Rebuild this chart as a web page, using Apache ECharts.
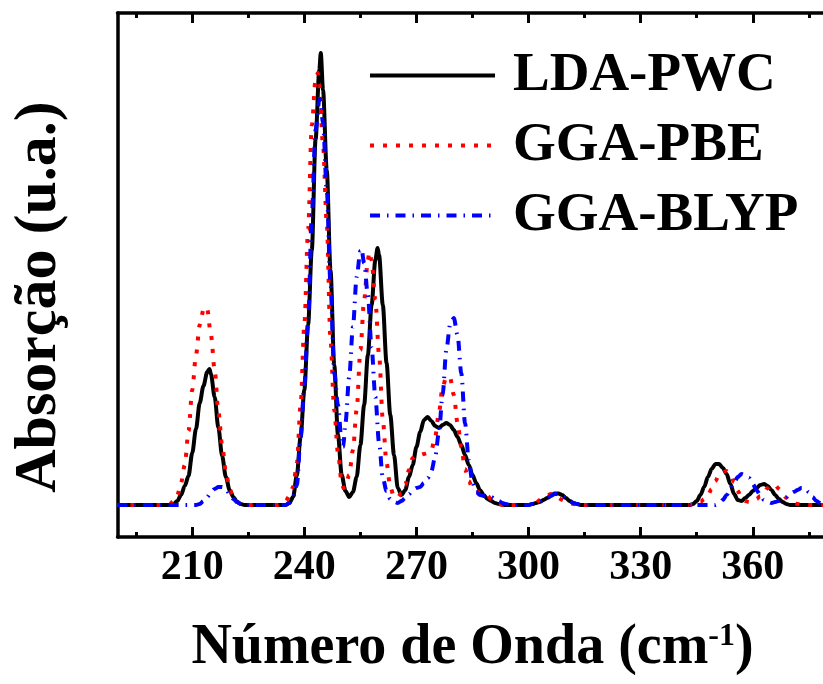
<!DOCTYPE html>
<html>
<head>
<meta charset="utf-8">
<script src="https://cdn.jsdelivr.net/npm/echarts@6/dist/echarts.min.js"></script>
<style>
  html, body { margin: 0; padding: 0; background: #fff; }
  #main { width: 823px; height: 684px; }
</style>
</head>
<body>
<div id="main"></div>
<script>
// wavenumber (cm-1), absorption (u.a.)
const ldaPwc = [
  [190, 0], [200, 0], [204, 0], [205, 1], [206, 4], [207, 10], [208, 19], [209, 29], [210, 52], [211, 76],
  [212, 102], [213, 119], [214, 133], [214.6, 136], [215, 131], [216, 108], [217, 77], [218, 49], [219, 28],
  [220, 15], [221, 8], [222, 3], [223, 1], [224, 0], [232, 0], [235, 0], [236, 2], [237, 8], [238, 30],
  [239, 68], [240, 115], [241, 180], [242, 255], [243, 365], [244, 435], [244.4, 452], [245, 415], [246, 335],
  [247, 235], [248, 140], [249, 70], [250, 30], [251, 14], [252, 8], [253, 13], [254, 28], [255, 60],
  [256, 100], [257, 150], [258, 200], [259, 245], [259.6, 257], [260, 250], [261, 200], [262, 142], [263, 90],
  [264, 50], [265, 17], [266, 10], [267, 15], [268, 28], [269, 40], [270, 58], [271, 73], [272, 85], [273, 88],
  [274, 84], [275, 79], [276, 77], [277, 80], [278, 82], [279, 80], [280, 75], [281, 68], [282, 60], [283, 50],
  [284, 40], [285, 30], [286, 22], [287, 15], [288, 10], [289, 6], [290, 4], [291, 2], [292, 1], [294, 0],
  [300, 0], [301, 1], [302, 2], [303, 3], [304, 5], [305, 7], [306, 9.5], [307, 11.5], [308, 11.5], [309, 10],
  [310, 7], [311, 4], [312, 2], [313, 1], [314, 0], [343, 0], [344, 1], [345, 4], [346, 10], [347, 18],
  [348, 28], [349, 36], [350, 41], [351, 41], [352, 37], [353, 31], [354, 21], [355, 11], [356, 5], [357, 4],
  [358, 7], [359, 10], [360, 14], [361, 17], [362, 20], [363, 21], [364, 19], [365, 15], [366, 10], [367, 6],
  [368, 3], [369, 1], [370, 0], [380, 0]
]
const ggaPbe = [
  [190, 0], [203, 0], [204, 1], [205, 4], [206, 10], [207, 22], [208, 40], [209, 74], [210, 115], [211, 150],
  [212, 180], [213, 195], [213.7, 198], [214, 196], [215, 170], [216, 135], [217, 93], [218, 60], [219, 33],
  [220, 16], [221, 8], [222, 3], [223, 1], [224, 0], [233, 0], [234, 1], [235, 4], [236, 9], [237, 18],
  [238, 42], [239, 100], [240, 180], [241, 275], [242, 380], [243, 425], [243.6, 432], [244, 420], [245, 360],
  [246, 282], [247, 165], [248, 95], [249, 52], [250, 22], [250.5, 17], [251, 18], [252, 30], [253, 55],
  [254, 95], [255, 155], [256, 205], [257, 245], [257.4, 253], [258, 245], [259, 205], [260, 150], [261, 85],
  [262, 42], [263, 18], [264, 8], [265, 8], [266, 12], [267, 20], [268, 35], [269, 47], [270, 50], [271, 50],
  [272, 51], [273, 52], [274, 55], [275, 68], [276, 92], [277, 118], [278, 128], [279, 127], [280, 110],
  [281, 82], [282, 58], [283, 36], [284, 24], [285, 17], [286, 14], [287, 12], [288, 10], [289, 9], [290, 6],
  [291, 3], [292, 1], [293, 0], [300, 0], [301, 1], [302, 2], [303, 5], [304, 8], [305, 10], [306, 11],
  [307, 10], [308, 7], [309, 5], [310, 3], [311, 2], [312, 1], [313, 0], [344, 0], [345, 1], [346, 3],
  [347, 6], [348, 10], [349, 16], [350, 24], [351, 30], [352, 33], [353, 34], [354, 31], [355, 23], [356, 14],
  [357, 7], [358, 4], [359, 3], [360, 4], [361, 6], [362, 9], [363, 13], [364, 17], [365, 20], [366, 20],
  [367, 16], [368, 11], [369, 7], [370, 4], [371, 2], [372, 1], [373, 0], [380, 0]
]
const ggaBlyp = [
  [190, 0], [211, 0], [212, 1], [213, 4], [214, 8], [215, 13], [216, 16], [217, 18], [218, 18], [219, 16],
  [220, 11], [221, 6], [222, 3], [223, 1], [224, 0], [235, 0], [236, 2], [237, 8], [238, 20], [239, 68],
  [240, 120], [241, 182], [242, 290], [243, 375], [244, 404], [244.2, 406], [245, 382], [246, 315], [247, 222],
  [248, 132], [249, 100], [250, 62], [250.4, 58], [251, 82], [252, 128], [253, 178], [254, 228], [255, 254],
  [255.3, 256], [256, 242], [257, 210], [258, 157], [259, 108], [260, 62], [261, 27], [262, 14], [263, 6],
  [264, 3], [265, 2], [266, 4], [267, 7], [268, 11], [269, 15], [270, 17], [271, 18], [272, 22], [273, 27],
  [274, 34], [275, 48], [276, 72], [277, 110], [278, 155], [279, 180], [280, 187], [281, 170], [282, 132],
  [283, 82], [284, 45], [285, 22], [286, 13], [287, 10], [288, 9], [289, 9], [290, 8], [291, 6], [292, 4],
  [293, 2], [294, 1], [295, 0], [300, 0], [301, 1], [302, 2], [303, 3], [304, 5], [305, 7], [306, 9],
  [307, 11], [308, 11], [309, 9], [310, 7], [311, 4], [312, 2], [313, 1], [314, 0], [350, 0], [351, 2],
  [352, 5], [353, 10], [354, 16], [355, 22], [356, 28], [357, 31], [358, 30], [359, 27], [360, 21], [361, 15],
  [362, 10], [363, 5], [364, 3], [365, 2], [366, 3], [367, 4], [368, 6], [369, 8], [370, 11], [371, 13],
  [372, 15], [373, 17], [374, 17], [375, 13], [376, 8], [377, 4], [378, 2], [379, 1], [380, 0]
]
const seriesNames = ['LDA-PWC', 'GGA-PBE', 'GGA-BLYP']
const majorTicks = [210, 240, 270, 300, 330, 360]
const minorTicks = [195, 225, 255, 285, 315, 345, 375]

const font = 'Liberation Serif'
const xRange = { min: 190, max: 380 }

function tickAxis (pos, ticks, len, withLine) {
  return {
    type: 'value', position: pos, ...xRange,
    axisLine: { show: withLine, onZero: false, lineStyle: { color: '#000', width: 3.5 } },
    axisTick: { show: true, inside: true, length: len, customValues: ticks, lineStyle: { color: '#000', width: 3 } },
    axisLabel: { show: false },
    splitLine: { show: false }
  }
}

const bottomAxis = tickAxis('bottom', majorTicks, 10, true)
bottomAxis.axisLabel = {
  show: true, customValues: majorTicks, margin: 10,
  color: '#000', fontFamily: font, fontWeight: 'bold', fontSize: 42
}
bottomAxis.name = 'Número de Onda (cm{sup|-1})'
bottomAxis.nameLocation = 'middle'
bottomAxis.nameGap = 84
bottomAxis.nameTextStyle = {
  color: '#000', fontFamily: font, fontWeight: 'bold', fontSize: 56,
  rich: { sup: { fontFamily: font, fontWeight: 'bold', fontSize: 32, verticalAlign: 'top', color: '#000' } }
}

const option = {
  animation: false,
  backgroundColor: '#fff',
  grid: { left: 117.5, top: 13, width: 710, height: 524, outerBoundsMode: 'none' },
  legend: {
    orient: 'vertical', left: 363, top: 43,
    itemWidth: 125, itemHeight: 20, itemGap: 15,
    data: seriesNames,
    itemStyle: { opacity: 0 },
    lineStyle: { width: 4 },
    textStyle: { color: '#000', fontFamily: font, fontWeight: 'bold', fontSize: 55, lineHeight: 55, padding: [0, 0, 0, 13] }
  },
  xAxis: [
    bottomAxis,
    tickAxis('bottom', minorTicks, 5, false),
    tickAxis('top', majorTicks, 10, true),
    tickAxis('top', minorTicks, 5, false)
  ],
  yAxis: {
    type: 'value', min: -32, max: 492,
    axisLine: { show: true, lineStyle: { color: '#000', width: 3.5 } },
    axisTick: { show: false }, axisLabel: { show: false }, splitLine: { show: false },
    name: 'Absorção (u.a.)', nameLocation: 'middle', nameRotate: 90, nameGap: 48,
    nameTextStyle: { color: '#000', fontFamily: font, fontWeight: 'bold', fontSize: 60, padding: [0, 44, 0, 0] }
  },
  series: [
    {
      name: seriesNames[0], type: 'line', data: ldaPwc, showSymbol: false, symbol: 'none',
      smooth: 0.3, smoothMonotone: 'x',
      lineStyle: { color: '#000', width: 4, type: 'solid' }, itemStyle: { color: '#000' }
    },
    {
      name: seriesNames[1], type: 'line', data: ggaPbe, showSymbol: false, symbol: 'none',
      smooth: 0.3, smoothMonotone: 'x',
      lineStyle: { color: '#ff0000', width: 4, type: [4, 9] }, itemStyle: { color: '#ff0000' }
    },
    {
      name: seriesNames[2], type: 'line', data: ggaBlyp, showSymbol: false, symbol: 'none',
      smooth: 0.3, smoothMonotone: 'x',
      lineStyle: { color: '#0000ff', width: 4, type: [10, 7, 1.5, 7] }, itemStyle: { color: '#0000ff' }
    }
  ]
}

echarts.init(document.getElementById('main')).setOption(option)
</script>
</body>
</html>
